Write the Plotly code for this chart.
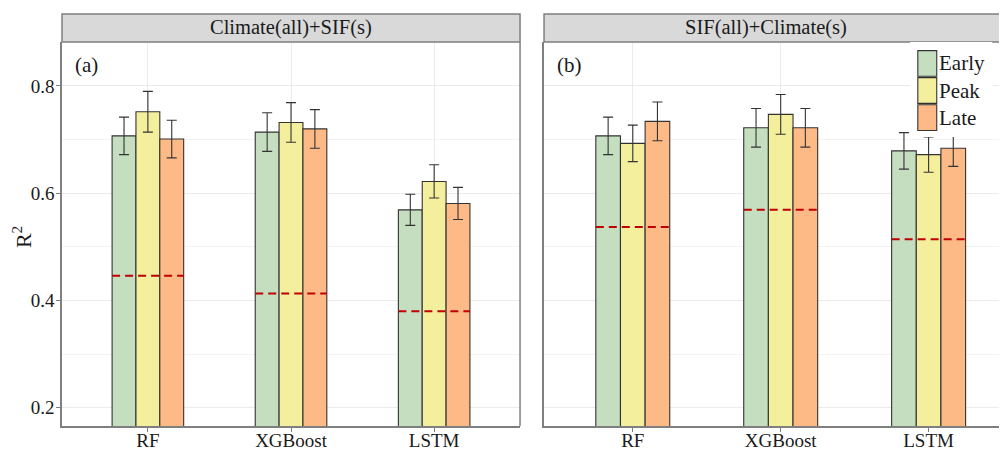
import plotly.graph_objects as go

# ---------------- data ----------------
categories = ["RF", "XGBoost", "LSTM"]
series_names = ["Early", "Peak", "Late"]

a_early = [0.707, 0.714, 0.569]
a_early_err = [0.035, 0.036, 0.029]
a_peak = [0.752, 0.732, 0.622]
a_peak_err = [0.038, 0.037, 0.031]
a_late = [0.701, 0.720, 0.581]
a_late_err = [0.035, 0.036, 0.030]
a_baseline = [0.446, 0.413, 0.380]

b_early = [0.707, 0.722, 0.679]
b_early_err = [0.035, 0.036, 0.034]
b_peak = [0.693, 0.747, 0.672]
b_peak_err = [0.034, 0.037, 0.033]
b_late = [0.734, 0.722, 0.684]
b_late_err = [0.036, 0.036, 0.034]
b_baseline = [0.537, 0.569, 0.514]

panel_titles = ["Climate(all)+SIF(s)", "SIF(all)+Climate(s)"]
panel_tags = ["(a)", "(b)"]
y_ticks = [0.2, 0.4, 0.6, 0.8]
y_minor = [0.3, 0.5, 0.7]

# ---------------- style ----------------
colors = ["#C5DEC0", "#F3EF9D", "#FEBA86"]
FONT = "Liberation Serif"
GRID = "#EBEBEB"
BORDER = "#7F7F7F"
OUT = "#333333"
TXT = "#1a1a1a"

panels = [
    ([a_early, a_peak, a_late], [a_early_err, a_peak_err, a_late_err], a_baseline, "x", "y"),
    ([b_early, b_peak, b_late], [b_early_err, b_peak_err, b_late_err], b_baseline, "x2", "y2"),
]

xpos = list(range(len(categories)))
fig = go.Figure()

for vals, errs, base, xa, ya in panels:
    for name, v, e, c in zip(series_names, vals, errs, colors):
        fig.add_trace(go.Bar(
            x=xpos, y=v, name=name, xaxis=xa, yaxis=ya, showlegend=False,
            marker=dict(color=c, line=dict(color=OUT, width=1.1)),
            error_y=dict(type="data", array=e, color=OUT, thickness=1.1, width=5),
        ))
    lx, ly = [], []
    for i, b in zip(xpos, base):
        lx += [i - 0.25, i + 0.25, None]
        ly += [b, b, None]
    fig.add_trace(go.Scatter(
        x=lx, y=ly, mode="lines", xaxis=xa, yaxis=ya, showlegend=False,
        line=dict(color="#C00000", width=2, dash="8px,5px"), hoverinfo="skip",
    ))

L_DOM = [0.0, 0.4847]
R_DOM = [0.5101, 1.0]
YR = [0.166, 0.882]

xcommon = dict(tickvals=xpos, ticktext=categories, showgrid=True, gridcolor=GRID, gridwidth=1,
               showline=True, linecolor=BORDER, linewidth=1.5, ticks="outside", ticklen=4,
               tickcolor=BORDER, tickfont=dict(family=FONT, size=19, color=TXT),
               ticklabelstandoff=-8, zeroline=False, automargin=False)
minor = dict(tickvals=y_minor, showgrid=True, gridcolor="#F3F3F3", gridwidth=0.6, ticks="")

# the page body adds an 8px offset, so the figure is 8px smaller and shifted
fig.update_layout(
    width=999, height=442,
    margin=dict(l=54, r=0, t=34, b=24),
    paper_bgcolor="white", plot_bgcolor="white",
    barmode="group", bargap=0.5, bargroupgap=0,
    font=dict(family=FONT, color=TXT),
    xaxis=dict(domain=L_DOM, range=[-0.6, 2.6], anchor="y", **xcommon),
    xaxis2=dict(domain=R_DOM, range=[-0.6, 2.53], anchor="y2", **xcommon),
    yaxis=dict(range=YR, tickvals=y_ticks, ticktext=[f"{t:.1f}" for t in y_ticks],
               showgrid=True, gridcolor=GRID, gridwidth=1, minor=minor,
               showline=True, linecolor=BORDER, linewidth=1.5, ticks="outside", ticklen=4,
               tickcolor=BORDER, tickfont=dict(family=FONT, size=19, color=TXT),
               ticklabelstandoff=-2, zeroline=False, automargin=False, anchor="x"),
    yaxis2=dict(range=YR, tickvals=y_ticks, showticklabels=False,
                showgrid=True, gridcolor=GRID, gridwidth=1, minor=minor,
                showline=True, linecolor=BORDER, linewidth=1.5, ticks="",
                zeroline=False, automargin=False, anchor="x2"),
)

shapes = []
annotations = []
# left panel right border
shapes.append(dict(type="line", xref="paper", yref="paper", x0=L_DOM[1], x1=L_DOM[1], y0=0, y1=1,
                   line=dict(color=BORDER, width=1.5)))
# strips
strip_top = 1 + 28 / 384
strip_centers = [(L_DOM[0] + L_DOM[1]) / 2, 0.745]
for k, (dom, title, tag) in enumerate(zip([L_DOM, R_DOM], panel_titles, panel_tags)):
    x1 = dom[1] + (0.01 if k == 1 else 0)
    shapes.append(dict(type="rect", xref="paper", yref="paper", x0=dom[0], x1=x1,
                       y0=1, y1=strip_top, fillcolor="#D9D9D9", line=dict(color=BORDER, width=1.5), layer="above"))
    annotations.append(dict(xref="paper", yref="paper", x=strip_centers[k],
                            y=(1 + strip_top) / 2, text=title, showarrow=False,
                            font=dict(family=FONT, size=20.5, color=TXT), xanchor="center", yanchor="middle"))
    annotations.append(dict(xref="paper", yref="paper", x=dom[0] + 11 / 945, y=0.94, text=tag, showarrow=False,
                            font=dict(family=FONT, size=21, color=TXT), xanchor="left", yanchor="middle"))

# manual legend in right panel
shapes.append(dict(type="rect", xref="x2", yref="y2", x0=1.875, x1=2.43, y0=0.705, y1=0.884,
                   fillcolor="white", line=dict(width=0), layer="above"))
key_top = 0.866
key_h = 0.048
key_step = 0.0505
for k, (name, c) in enumerate(zip(series_names, colors)):
    y1 = key_top - k * key_step
    y0 = y1 - key_h
    shapes.append(dict(type="rect", xref="x2", yref="y2", x0=1.927, x1=2.055, y0=y0, y1=y1,
                       fillcolor=c, line=dict(color=OUT, width=1.1), layer="above"))
    annotations.append(dict(xref="x2", yref="y2", x=2.058, y=(y0 + y1) / 2, text=name, showarrow=False,
                            font=dict(family=FONT, size=21, color=TXT), xanchor="left", yanchor="middle"))

# y axis title
annotations.append(dict(xref="paper", yref="paper", x=-40 / 945, y=0.492, text="R<sup>2</sup>", showarrow=False,
                        textangle=-90, font=dict(family=FONT, size=22, color=TXT),
                        xanchor="center", yanchor="middle"))

fig.update_layout(shapes=shapes, annotations=annotations)
fig.write_html("out.html")
